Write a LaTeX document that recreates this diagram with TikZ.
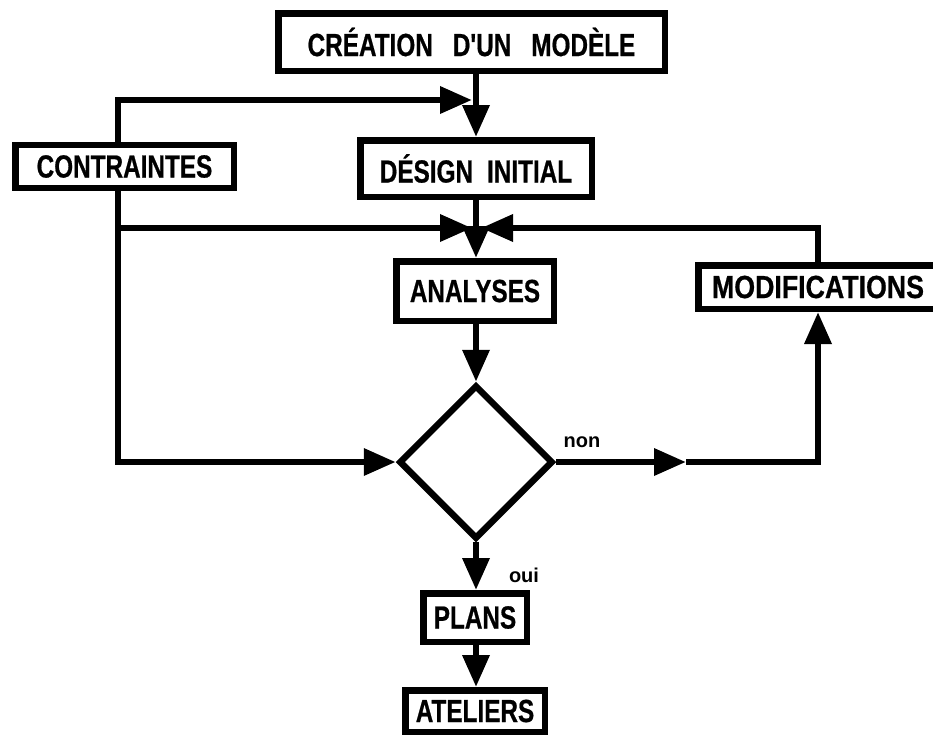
\documentclass[tikz,border=0pt]{standalone}
\usepackage{fontspec}
\setmainfont{Liberation Sans}
\newfontfamily\boxfont[FakeStretch=0.76,BoldFeatures={FakeBold=0.6}]{Liberation Sans}
\usetikzlibrary{arrows.meta,shapes.geometric}
\begin{document}
\begin{tikzpicture}[x=1pt,y=-1pt,
  lw/.style={line width=6.5pt},
  box/.style={draw,lw,rectangle,inner sep=0pt,font=\boxfont\bfseries\fontsize{32}{32}\selectfont},
  arr/.style={lw,-{Triangle[length=32pt,width=26pt]}},
  lbl/.style={font=\bfseries\fontsize{20}{20}\selectfont,inner sep=0pt}]
\useasboundingbox (0,0) rectangle (933,737);
\node[box,minimum width=386.5pt,minimum height=57.5pt] (create) at (471.5,42) {CRÉATION\hspace{20pt}D'UN\hspace{20pt}MODÈLE};
\node[box,minimum width=231.5pt,minimum height=56.5pt] (design) at (476,168.5) {DÉSIGN\hspace{14pt}INITIAL};
\node[box,minimum width=218.5pt,minimum height=43pt] (contr) at (124.5,166.5) {CONTRAINTES};
\node[box,minimum width=157.5pt,minimum height=59.5pt] (analyses) at (475,291) {ANALYSES};
\node[box,minimum width=239.5pt,minimum height=43.5pt] (modif) at (818,287) {\scalebox{1.1}[1]{MODIFICATIONS}};
\node[draw,lw,diamond,shape aspect=1,inner sep=0pt,minimum width=154pt,minimum height=154pt] (dia) at (476,462) {};
\node[box,minimum width=103.5pt,minimum height=48.5pt] (plans) at (475,617.5) {PLANS};
\node[box,minimum width=139.5pt,minimum height=41.5pt] (ateliers) at (475,711) {ATELIERS};
\node[lbl] (non) at (582,442) {non};
\node[lbl] (oui) at (524,575) {oui};
\coordinate (ax) at (476,0);
\coordinate (cx) at (118,0);
\coordinate (mx) at (818,0);
\coordinate (j1) at (472,100);
\coordinate (b) at (118,228);
\coordinate (j2l) at (472,228);
\coordinate (j2r) at (481,228);
\coordinate (m1) at (686,462);
\draw[arr] (create.south -| ax) -- (design.north -| ax);
\draw[arr] (contr.north -| cx) |- (j1);
\draw[arr] (design.south -| ax) -- (analyses.north -| ax);
\draw[arr] (contr.south -| cx) |- (dia.west);
\draw[arr] (b) -- (j2l);
\draw[arr] (modif.north -| mx) |- (j2r);
\draw[arr] (analyses.south -| ax) -- (dia.north);
\draw[arr] (dia.east) -- (m1);
\draw[arr] (m1) -| (modif.south -| mx);
\draw[arr] (dia.south) -- (plans.north -| ax);
\draw[arr] (plans.south -| ax) -- (ateliers.north -| ax);
\end{tikzpicture}
\end{document}
